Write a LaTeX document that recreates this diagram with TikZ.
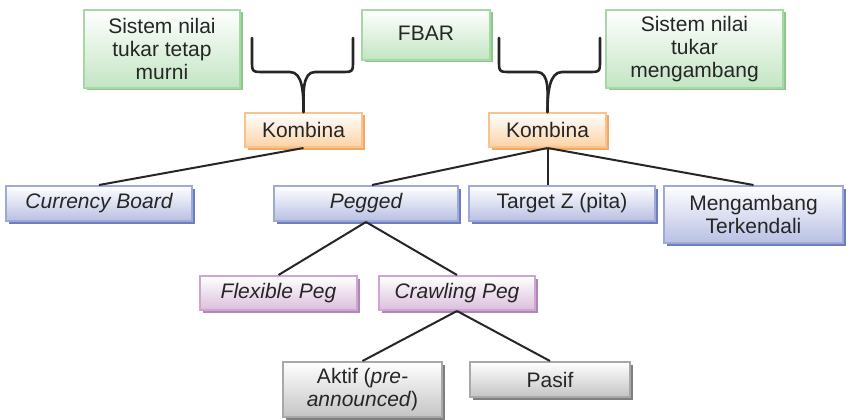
\documentclass[tikz,border=0pt]{standalone}
\usepackage{fontspec}
\setmainfont{Liberation Sans}
\usetikzlibrary{shadows}
\definecolor{hijau}{HTML}{C3E5C3}
\definecolor{hijaugaris}{HTML}{A6D7A6}
\definecolor{hijaubayang}{HTML}{8CC78C}
\definecolor{jingga}{HTML}{FBD2A5}
\definecolor{jinggagaris}{HTML}{F9C28E}
\definecolor{jinggabayang}{HTML}{F2A965}
\definecolor{biru}{HTML}{B8C0E3}
\definecolor{birugaris}{HTML}{9EA9D8}
\definecolor{birubayang}{HTML}{6C7DC0}
\definecolor{ungu}{HTML}{DBBFDC}
\definecolor{ungugaris}{HTML}{CFA6D2}
\definecolor{ungubayang}{HTML}{B384B8}
\definecolor{abu}{HTML}{C4C4C4}
\definecolor{abugaris}{HTML}{A8A8A8}
\definecolor{abubayang}{HTML}{7F7F7F}
\tikzset{
  kotak/.style={rectangle, inner sep=0pt, align=center, line width=2pt,
    font=\fontsize{21}{23.3}\selectfont, text=black!85},
  hijaubox/.style={kotak, draw=hijaugaris, top color=white, bottom color=hijau,
    general shadow={fill=hijaubayang, shadow xshift=2.5pt, shadow yshift=-2.5pt}},
  jinggabox/.style={kotak, draw=jinggagaris, top color=white, bottom color=jingga,
    general shadow={fill=jinggabayang, shadow xshift=2.5pt, shadow yshift=-2.5pt}},
  birubox/.style={kotak, draw=birugaris, top color=white, bottom color=biru,
    general shadow={fill=birubayang, shadow xshift=2.5pt, shadow yshift=-2.5pt}},
  ungubox/.style={kotak, draw=ungugaris, top color=white, bottom color=ungu,
    general shadow={fill=ungubayang, shadow xshift=2.5pt, shadow yshift=-2.5pt}},
  abubox/.style={kotak, draw=abugaris, top color=white, bottom color=abu,
    general shadow={fill=abubayang, shadow xshift=2.5pt, shadow yshift=-2.5pt}},
  garis/.style={line width=2pt, black!85},
  kurung/.style={line width=2.6pt, black!85, line cap=round}
}
\begin{document}
\begin{tikzpicture}[x=1pt, y=-1pt]
        \useasboundingbox (0,0) rectangle (847,420);
        % Top boxes
        \node[hijaubox, minimum width=156pt, minimum height=78pt] (tetap) at (162,49) {Sistem nilai\\tukar tetap\\murni};
        \node[hijaubox, minimum width=128pt, minimum height=50pt] (fbar) at (426,35) {\raisebox{4pt}{FBAR}};
        \node[hijaubox, minimum width=177pt, minimum height=78pt] (ambang) at (694.5,49) {Sistem nilai\\tukar\\mengambang};
        % Kombina boxes
        \node[jinggabox, minimum width=117pt, minimum height=34pt] (kombinaA) at (303.5,130) {Kombina};
        \node[jinggabox, minimum width=117pt, minimum height=34pt] (kombinaB) at (547.5,130) {Kombina};
        % Second row
        \node[birubox, minimum width=186pt, minimum height=35pt] (board) at (99,203.5) {\itshape Currency Board};
        \node[birubox, minimum width=184pt, minimum height=35pt] (pegged) at (366,203.5) {\itshape Pegged};
        \node[birubox, minimum width=186pt, minimum height=35pt] (target) at (562,203.5) {Target Z (pita)};
        \node[birubox, minimum width=179pt, minimum height=57pt] (kendali) at (753.5,214.5) {Mengambang\\Terkendali};
        % Third row
        \node[ungubox, minimum width=157pt, minimum height=34pt] (flexible) at (278.5,293) {\itshape Flexible Peg};
        \node[ungubox, minimum width=156pt, minimum height=34pt] (crawling) at (457,293) {\itshape Crawling Peg};
        % Bottom row
        \node[abubox, minimum width=159pt, minimum height=55pt] (aktif) at (362.5,389.5) {Aktif (\textit{pre-}\\\textit{announced})};
        \node[abubox, minimum width=160pt, minimum height=35pt] (pasif) at (550,379.5) {Pasif};
        % Braces
        \coordinate (kiriA) at (252,38);
        \coordinate (kananA) at (353,38);
        \coordinate (kiriB) at (499,38);
        \coordinate (kananB) at (600,38);
        \draw[kurung] (kiriA) -- ++(0,22) .. controls ++(0,12) .. ++(12,12) -- ++(26,0)
            .. controls ++(13,0) and ++(0,-18) .. (kombinaA.north);
        \draw[kurung] (kananA) -- ++(0,22) .. controls ++(0,12) .. ++(-12,12) -- ++(-26,0)
            .. controls ++(-13,0) and ++(0,-18) .. (kombinaA.north);
        \draw[kurung] (kiriB) -- ++(0,22) .. controls ++(0,12) .. ++(12,12) -- ++(26,0)
            .. controls ++(13,0) and ++(0,-18) .. (kombinaB.north);
        \draw[kurung] (kananB) -- ++(0,22) .. controls ++(0,12) .. ++(-12,12) -- ++(-26,0)
            .. controls ++(-13,0) and ++(0,-18) .. (kombinaB.north);
        % Draw the lines
        \draw[garis] (kombinaA.south) -- (board.north);
        \draw[garis] (kombinaB.south) -- ([xshift=6pt]pegged.north);
        \draw[garis] (kombinaB.south) -- (kombinaB.south |- target.north);
        \draw[garis] (kombinaB.south) -- (kendali.north);
        \draw[garis] (pegged.south) -- (flexible.north);
        \draw[garis] (pegged.south) -- (crawling.north);
        \draw[garis] (crawling.south) -- (aktif.north);
        \draw[garis] (crawling.south) -- (pasif.north);
    \end{tikzpicture}
\end{document}
